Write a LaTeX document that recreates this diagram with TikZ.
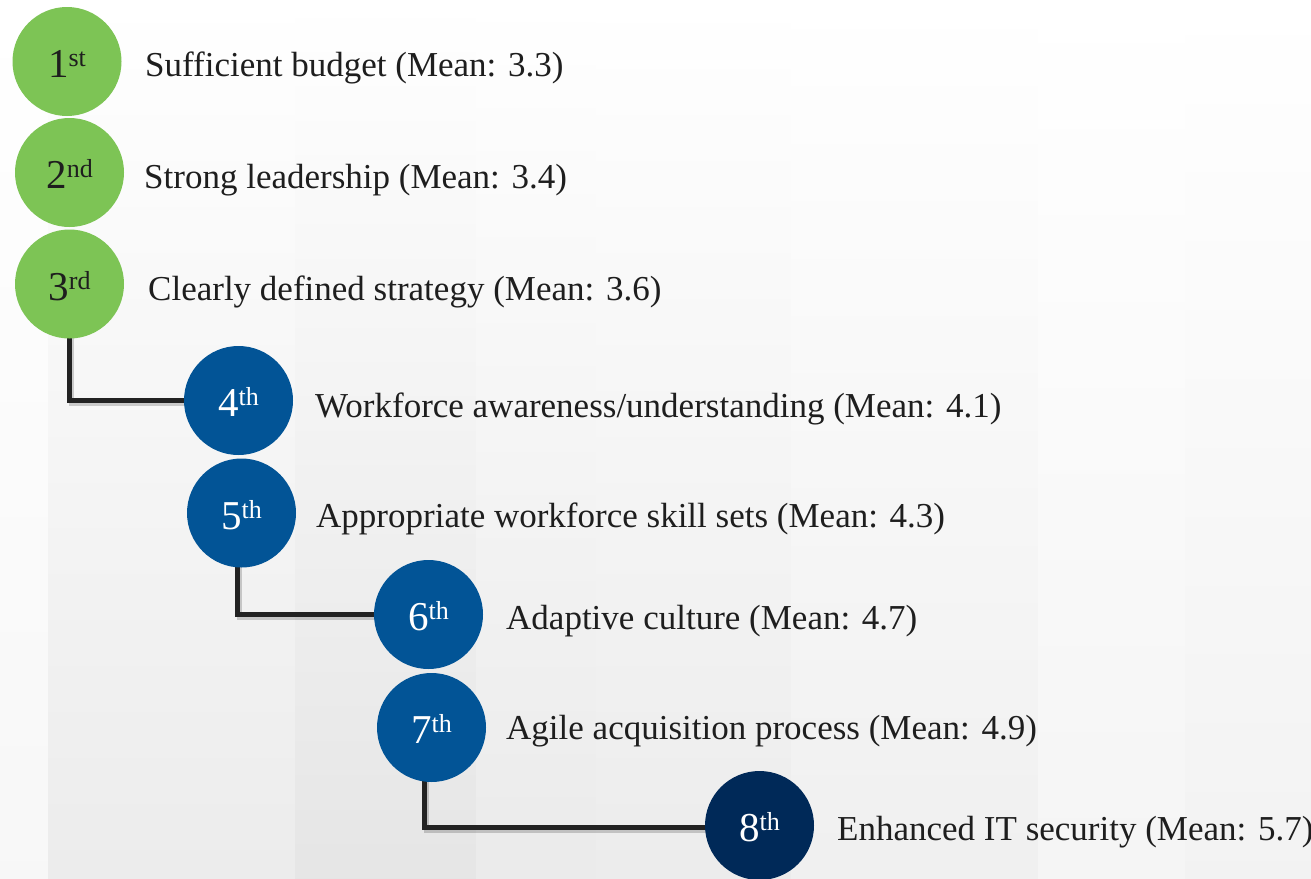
\documentclass[tikz,border=0pt]{standalone}
\usepackage{fontspec}
\setmainfont{Liberation Serif}
\usetikzlibrary{calc}
\definecolor{rankgreen}{RGB}{125,196,85}
\definecolor{rankblue}{RGB}{2,84,150}
\definecolor{ranknavy}{RGB}{0,41,88}
\definecolor{inktext}{RGB}{30,30,30}
\definecolor{linkink}{RGB}{34,34,34}
\pgfdeclarelayer{backdrop}
\pgfdeclarelayer{links}
\pgfsetlayers{backdrop,links,main}
\tikzset{
  rank/.style={circle, minimum size=109pt, inner sep=0pt, text=white,
    text height=34pt, text depth=2pt, align=center},
  green rank/.style={rank, fill=rankgreen, text=inktext},
  blue rank/.style={rank, fill=rankblue},
  navy rank/.style={rank, fill=ranknavy},
  itemtext/.style={anchor=base west, inner sep=0pt, text=inktext,
    font=\fontsize{35}{40}\selectfont},
  link/.style={draw=linkink, line width=5pt,
    preaction={draw=black, draw opacity=0.18, line width=5pt,
      transform canvas={shift={(1.5pt,-2.5pt)}}}}
}
\newcommand{\rankno}[2]{{\fontsize{41}{41}\selectfont #1}\raisebox{11pt}{\fontsize{26}{26}\selectfont #2}}
\begin{document}
\begin{tikzpicture}[x=1pt,y=-1pt]
\useasboundingbox (0,0) rectangle (1311,878);

% soft vertical bands behind everything
\begin{pgfonlayer}{backdrop}
  \fill[white] (0,0) rectangle (1311,878);
  \foreach \xa/\xb/\g in {0/48/97, 48/295/92.5, 295/476/90, 476/596/92, 596/791/92.5, 791/1038/94, 1038/1185/96, 1185/1311/95}
    \shade[top color=white, bottom color=white!\g!black] (\xa,0) rectangle (\xb,878);
\end{pgfonlayer}

% ranked circles
\node[green rank] (c1) at (67,61.5)    {\rankno{1}{st}};
\node[green rank] (c2) at (69.5,172.5) {\rankno{2}{nd}};
\node[green rank] (c3) at (69.5,284)   {\rankno{3}{rd}};
\node[blue rank]  (c4) at (238.5,400.5){\rankno{4}{th}};
\node[blue rank]  (c5) at (241.5,513)  {\rankno{5}{th}};
\node[blue rank]  (c6) at (428.5,614.5){\rankno{6}{th}};
\node[blue rank]  (c7) at (431.5,727.5){\rankno{7}{th}};
\node[navy rank]  (c8) at (759.5,825.5){\rankno{8}{th}};

% item descriptions
\node[itemtext] (t1) at (145,76)  {Sufficient budget (Mean: 3.3)};
\node[itemtext] (t2) at (144,188) {Strong leadership (Mean: 3.4)};
\node[itemtext] (t3) at (148,300) {Clearly defined strategy (Mean: 3.6)};
\node[itemtext] (t4) at (315,417) {Workforce awareness/understanding (Mean: 4.1)};
\node[itemtext] (t5) at (316,527) {Appropriate workforce skill sets (Mean: 4.3)};
\node[itemtext] (t6) at (506,629) {Adaptive culture (Mean: 4.7)};
\node[itemtext] (t7) at (506,739) {Agile acquisition process (Mean: 4.9)};
\node[itemtext] (t8) at (837,840) {Enhanced IT security (Mean: 5.7)};

% elbow connectors between tiers
\begin{pgfonlayer}{links}
  \draw[link] (c3.center) |- (c4.center);
  \draw[link] ([xshift=-4pt]c5.center) |- (c6.center);
  \draw[link] ([xshift=-7pt]c7.center) |- ([yshift=-2pt]c8.center);
\end{pgfonlayer}
\end{tikzpicture}
\end{document}
